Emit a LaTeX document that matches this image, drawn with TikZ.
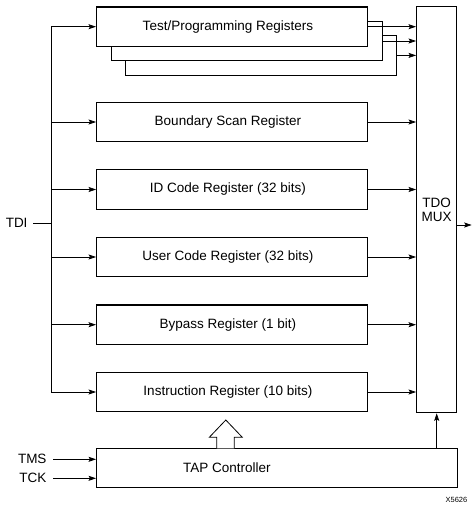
\documentclass[tikz,border=0pt]{standalone}
\usepackage{fontspec}
\setmainfont{Liberation Sans}
\usetikzlibrary{arrows.meta}
\begin{document}
\begin{tikzpicture}[x=1pt,y=-1pt,
  font=\fontsize{13.5}{14}\selectfont,
  reg/.style={draw,fill=white,line width=1.3pt,inner sep=0pt,
    minimum width=271pt,minimum height=39.5pt},
  regtext/.style={label={[xshift=-4.3pt]center:#1}},
  wire/.style={line width=0.7pt},
  arr/.style={wire,-{Stealth[length=7.5pt,width=5pt,inset=1.5pt]}}]
\useasboundingbox (0,0) rectangle (472,507);

% stacked test/programming registers (back to front)
\node[reg] (tp3) at (261.2,55.4) {};
\node[reg] (tp2) at (246.7,41.0) {};
\node[reg,regtext={Test/Programming Registers}] (tp1) at (232.2,26.7) {};

% register column
\node[reg,regtext={Boundary Scan Register}] (bsr) at (232.2,122.0) {};
\node[reg,regtext={ID Code Register (32 bits)}] (idr) at (232.2,189.5) {};
\node[reg,regtext={User Code Register (32 bits)}] (ucr) at (232.2,257.0) {};
\node[reg,regtext={Bypass Register (1 bit)}] (byp) at (232.2,324.7) {};
\node[reg,regtext={Instruction Register (10 bits)}] (ir) at (232.2,392.0) {};

% output multiplexer
\node[draw,line width=1.3pt,inner sep=0pt,minimum width=40pt,minimum height=406pt,
  align=center,font=\fontsize{13.5}{13.5}\selectfont] (mux) at (436.7,209.7) {TDO\\MUX};

% TAP controller
\node[draw,fill=white,line width=1.3pt,inner sep=0pt,minimum width=360.6pt,
  minimum height=39pt,label={[xshift=-50pt]center:TAP Controller}] (tap) at (277.0,467.8) {};

% TDI distribution bus
\coordinate (bustop) at (51,26.7);
\coordinate (busbot) at (51,392.0);
\coordinate (tdiend) at (33.3,223.3);
\node[anchor=east,inner sep=0pt] (tdi) at (27.7,223.3) {TDI};
\draw[wire] (tdiend) -- (tdiend -| bustop);
\draw[wire] (bustop) -- (busbot);
\foreach \r in {tp1,bsr,idr,ucr,byp,ir}
  \draw[arr] (bustop |- \r.west) -- (\r.west);

% register outputs into the multiplexer
\foreach \r in {tp1,tp2,tp3,bsr,idr,ucr,byp,ir}
  \draw[arr] (\r.east) -- (\r.east -| mux.west);

% multiplexer output
\coordinate (tdo) at (471.7,225);
\draw[arr] (mux.east |- tdo) -- (tdo);

% control from TAP controller
\draw[arr] (tap.north -| mux.south) -- (mux.south);
\draw[line width=0.8pt,fill=white]
  (216.7,448.3) -- (216.7,437.3) -- (209.3,437.3) -- (225.8,420.0)
  -- (242.3,437.3) -- (234.3,437.3) -- (234.3,448.3);

% TMS and TCK inputs
\node[anchor=east,inner sep=0pt] (tms) at (46.7,459.3) {TMS};
\node[anchor=east,inner sep=0pt] (tck) at (46.7,478.3) {TCK};
\coordinate (tmsend) at (53.3,459.3);
\coordinate (tckend) at (53.3,478.3);
\draw[arr] (tmsend) -- (tmsend -| tap.west);
\draw[arr] (tckend) -- (tckend -| tap.west);

% figure tag
\node[anchor=east,inner sep=0pt,font=\fontsize{7.5}{8}\selectfont] (tag) at (467.5,499.5) {X5626};
\end{tikzpicture}
\end{document}
